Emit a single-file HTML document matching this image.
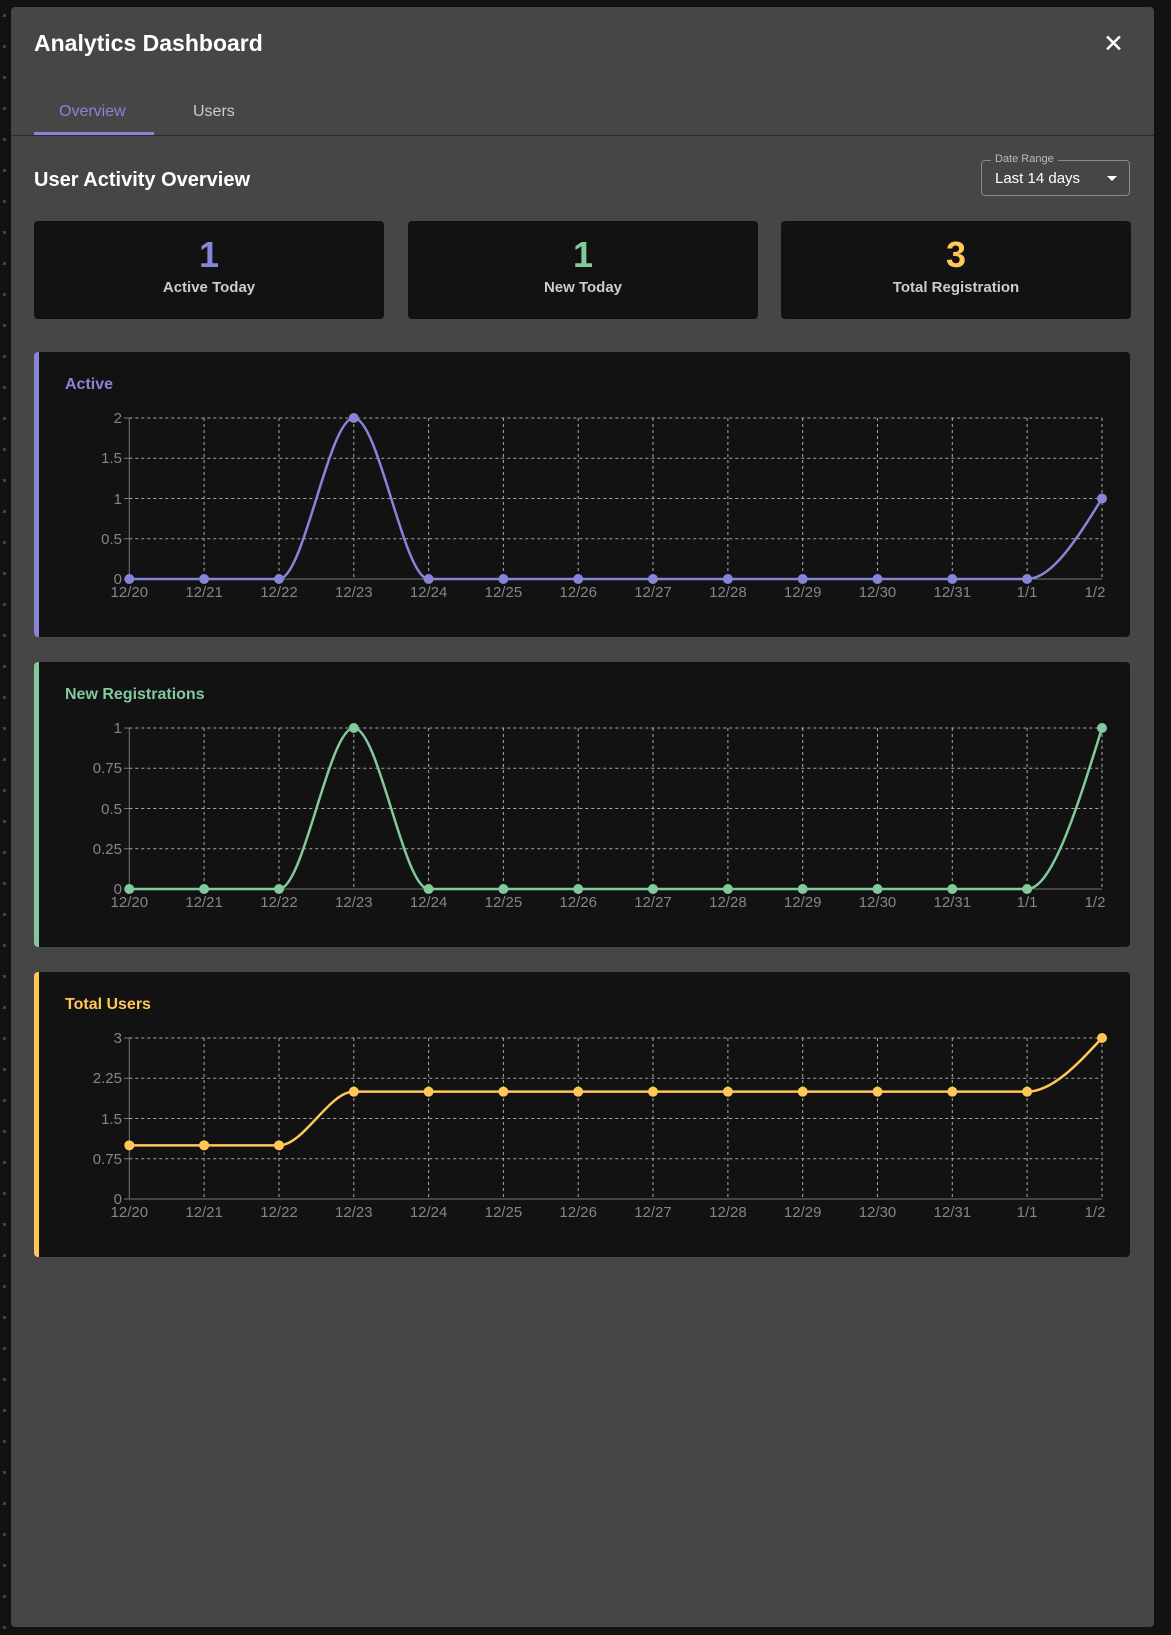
<!DOCTYPE html>
<html><head><meta charset="utf-8"><style>
*{margin:0;padding:0;box-sizing:border-box}
body{width:1171px;height:1635px;background:#121212;font-family:"Liberation Sans",sans-serif;position:relative;overflow:hidden}
.dots{position:absolute;left:3px;top:0;width:3px;height:1635px;background:repeating-linear-gradient(to bottom,transparent 0 14px,#444 14px 17px,transparent 17px 31px)}
.modal{position:absolute;left:11px;top:7px;width:1143px;height:1620px;background:#464646;border-radius:4px}
.abs{position:absolute}
.title{left:23px;top:23px;font-size:23px;font-weight:bold;color:#fff}
.close{left:1092px;top:22px;font-size:25px;color:#fff;font-weight:300}
.tab{top:96px;font-size:16px}
.divider{left:0;top:128px;width:1143px;height:1px;background:#2c2c2c}
.ul{left:23px;top:125px;width:120px;height:3px;background:#8884d8}
.h2{left:23px;top:162px;font-size:20px;font-weight:bold;color:#fff}
.sel{left:970px;top:153px;width:149px;height:36px;border:1px solid #8a8a8a;border-radius:4px}
.sel .lbl{position:absolute;left:9px;top:-8px;background:#464646;padding:0 4px;font-size:11px;color:#bbb}
.sel .v{position:absolute;left:13px;top:9px;font-size:15px;color:#fff}
.sel .tri{position:absolute;right:12px;top:15px;width:0;height:0;border-left:5px solid transparent;border-right:5px solid transparent;border-top:5px solid #fff}
.stat{top:214px;width:350px;height:98px;background:#121212;border-radius:4px;text-align:center}
.stat .n{font-size:36px;font-weight:bold;margin-top:14px;line-height:40px}
.stat .l{font-size:15px;font-weight:bold;color:#ccc;margin-top:4px}
.card{left:23px;width:1096px;height:285px;background:#121212;border-radius:4px;overflow:hidden}
.card .bar{position:absolute;left:0;top:0;width:5px;height:100%}
.card .ct{position:absolute;left:31px;top:24px;font-size:16px;font-weight:bold}
.card svg{position:absolute;left:0;top:0}
svg text{font-family:"Liberation Sans",sans-serif;font-size:15px;fill:#858585}
</style></head><body>
<div class="dots"></div>
<div class="modal">
<div class="abs title">Analytics Dashboard</div>
<div class="abs close">✕</div>
<div class="abs tab" style="left:48px;color:#8884d8">Overview</div>
<div class="abs tab" style="left:182px;color:#ccc">Users</div>
<div class="abs divider"></div>
<div class="abs ul"></div>
<div class="abs h2">User Activity Overview</div>
<div class="abs sel"><span class="lbl">Date Range</span><span class="v">Last 14 days</span><span class="tri"></span></div>
<div class="abs stat" style="left:23px"><div class="n" style="color:#8884d8">1</div><div class="l">Active Today</div></div>
<div class="abs stat" style="left:397px"><div class="n" style="color:#82ca9d">1</div><div class="l">New Today</div></div>
<div class="abs stat" style="left:770px"><div class="n" style="color:#ffc658">3</div><div class="l">Total Registration</div></div>

<!-- chart 1 -->
<div class="abs card" style="top:345px"><div class="bar" style="background:#8884d8"></div><div class="ct" style="color:#8884d8">Active</div>
<svg width="1096" height="285">
<g stroke="#aaa" stroke-width="1" stroke-dasharray="3 3" fill="none">
<path d="M95.3,66H1068M95.3,106.25H1068M95.3,146.5H1068M95.3,186.75H1068M170.1,66V227M245,66V227M319.8,66V227M394.6,66V227M469.4,66V227M544.2,66V227M619,66V227M693.9,66V227M768.7,66V227M843.5,66V227M918.3,66V227M993.1,66V227M1068,66V227"/>
</g>
<path d="M95.3,66V227H1068M90,66H95.3M90,106.25H95.3M90,146.5H95.3M90,186.75H95.3M90,227H95.3" stroke="#777" fill="none"/>
<g text-anchor="end"><text x="88" y="71">2</text><text x="88" y="111">1.5</text><text x="88" y="152">1</text><text x="88" y="192">0.5</text><text x="88" y="232">0</text></g>
<g text-anchor="middle"><text x="95.3" y="245">12/20</text><text x="170.1" y="245">12/21</text><text x="245" y="245">12/22</text><text x="319.8" y="245">12/23</text><text x="394.6" y="245">12/24</text><text x="469.4" y="245">12/25</text><text x="544.2" y="245">12/26</text><text x="619" y="245">12/27</text><text x="693.9" y="245">12/28</text><text x="768.7" y="245">12/29</text><text x="843.5" y="245">12/30</text><text x="918.3" y="245">12/31</text><text x="993.1" y="245">1/1</text><text x="1061" y="245">1/2</text></g>
<path d="M95.3,227L245,227C269.94,227 294.86,66 319.8,66C344.74,66 369.66,227 394.6,227L993.1,227C1018.04,227 1043.06,186.75 1068,146.5" stroke="#8884d8" stroke-width="2.5" fill="none"/>
<g fill="#8884d8"><circle cx="95.3" cy="227" r="5"/><circle cx="170.1" cy="227" r="5"/><circle cx="245" cy="227" r="5"/><circle cx="319.8" cy="66" r="5"/><circle cx="394.6" cy="227" r="5"/><circle cx="469.4" cy="227" r="5"/><circle cx="544.2" cy="227" r="5"/><circle cx="619" cy="227" r="5"/><circle cx="693.9" cy="227" r="5"/><circle cx="768.7" cy="227" r="5"/><circle cx="843.5" cy="227" r="5"/><circle cx="918.3" cy="227" r="5"/><circle cx="993.1" cy="227" r="5"/><circle cx="1068" cy="146.5" r="5"/></g>
</svg></div>

<!-- chart 2 -->
<div class="abs card" style="top:655px"><div class="bar" style="background:#82ca9d"></div><div class="ct" style="color:#82ca9d">New Registrations</div>
<svg width="1096" height="285">
<g stroke="#aaa" stroke-width="1" stroke-dasharray="3 3" fill="none">
<path d="M95.3,66H1068M95.3,106.25H1068M95.3,146.5H1068M95.3,186.75H1068M170.1,66V227M245,66V227M319.8,66V227M394.6,66V227M469.4,66V227M544.2,66V227M619,66V227M693.9,66V227M768.7,66V227M843.5,66V227M918.3,66V227M993.1,66V227M1068,66V227"/>
</g>
<path d="M95.3,66V227H1068M90,66H95.3M90,106.25H95.3M90,146.5H95.3M90,186.75H95.3M90,227H95.3" stroke="#777" fill="none"/>
<g text-anchor="end"><text x="88" y="71">1</text><text x="88" y="111">0.75</text><text x="88" y="152">0.5</text><text x="88" y="192">0.25</text><text x="88" y="232">0</text></g>
<g text-anchor="middle"><text x="95.3" y="245">12/20</text><text x="170.1" y="245">12/21</text><text x="245" y="245">12/22</text><text x="319.8" y="245">12/23</text><text x="394.6" y="245">12/24</text><text x="469.4" y="245">12/25</text><text x="544.2" y="245">12/26</text><text x="619" y="245">12/27</text><text x="693.9" y="245">12/28</text><text x="768.7" y="245">12/29</text><text x="843.5" y="245">12/30</text><text x="918.3" y="245">12/31</text><text x="993.1" y="245">1/1</text><text x="1061" y="245">1/2</text></g>
<path d="M95.3,227L245,227C269.94,227 294.86,66 319.8,66C344.74,66 369.66,227 394.6,227L993.1,227C1018.04,227 1043.06,146.5 1068,66" stroke="#82ca9d" stroke-width="2.5" fill="none"/>
<g fill="#82ca9d"><circle cx="95.3" cy="227" r="5"/><circle cx="170.1" cy="227" r="5"/><circle cx="245" cy="227" r="5"/><circle cx="319.8" cy="66" r="5"/><circle cx="394.6" cy="227" r="5"/><circle cx="469.4" cy="227" r="5"/><circle cx="544.2" cy="227" r="5"/><circle cx="619" cy="227" r="5"/><circle cx="693.9" cy="227" r="5"/><circle cx="768.7" cy="227" r="5"/><circle cx="843.5" cy="227" r="5"/><circle cx="918.3" cy="227" r="5"/><circle cx="993.1" cy="227" r="5"/><circle cx="1068" cy="66" r="5"/></g>
</svg></div>

<!-- chart 3 -->
<div class="abs card" style="top:965px"><div class="bar" style="background:#ffc658"></div><div class="ct" style="color:#ffc658">Total Users</div>
<svg width="1096" height="285">
<g stroke="#aaa" stroke-width="1" stroke-dasharray="3 3" fill="none">
<path d="M95.3,66H1068M95.3,106.25H1068M95.3,146.5H1068M95.3,186.75H1068M170.1,66V227M245,66V227M319.8,66V227M394.6,66V227M469.4,66V227M544.2,66V227M619,66V227M693.9,66V227M768.7,66V227M843.5,66V227M918.3,66V227M993.1,66V227M1068,66V227"/>
</g>
<path d="M95.3,66V227H1068M90,66H95.3M90,106.25H95.3M90,146.5H95.3M90,186.75H95.3M90,227H95.3" stroke="#777" fill="none"/>
<g text-anchor="end"><text x="88" y="71">3</text><text x="88" y="111">2.25</text><text x="88" y="152">1.5</text><text x="88" y="192">0.75</text><text x="88" y="232">0</text></g>
<g text-anchor="middle"><text x="95.3" y="245">12/20</text><text x="170.1" y="245">12/21</text><text x="245" y="245">12/22</text><text x="319.8" y="245">12/23</text><text x="394.6" y="245">12/24</text><text x="469.4" y="245">12/25</text><text x="544.2" y="245">12/26</text><text x="619" y="245">12/27</text><text x="693.9" y="245">12/28</text><text x="768.7" y="245">12/29</text><text x="843.5" y="245">12/30</text><text x="918.3" y="245">12/31</text><text x="993.1" y="245">1/1</text><text x="1061" y="245">1/2</text></g>
<path d="M95.3,173.33L245,173.33C269.94,173.33 294.86,119.67 319.8,119.67L993.1,119.67C1018.04,119.67 1043.06,92.83 1068,66" stroke="#ffc658" stroke-width="2.5" fill="none"/>
<g fill="#ffc658"><circle cx="95.3" cy="173.33" r="5"/><circle cx="170.1" cy="173.33" r="5"/><circle cx="245" cy="173.33" r="5"/><circle cx="319.8" cy="119.67" r="5"/><circle cx="394.6" cy="119.67" r="5"/><circle cx="469.4" cy="119.67" r="5"/><circle cx="544.2" cy="119.67" r="5"/><circle cx="619" cy="119.67" r="5"/><circle cx="693.9" cy="119.67" r="5"/><circle cx="768.7" cy="119.67" r="5"/><circle cx="843.5" cy="119.67" r="5"/><circle cx="918.3" cy="119.67" r="5"/><circle cx="993.1" cy="119.67" r="5"/><circle cx="1068" cy="66" r="5"/></g>
</svg></div>
</div>
</body></html>
